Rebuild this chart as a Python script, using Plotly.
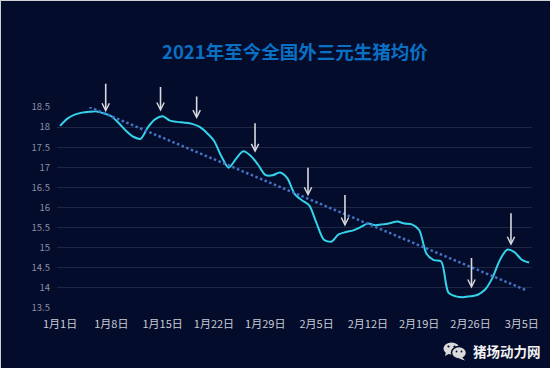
import plotly.graph_objects as go
import pandas as pd

# ---------------- data ----------------
start_date = "2021-01-01"
price_values = [
    18.03, 18.21, 18.31, 18.36, 18.38, 18.39, 18.34, 18.27, 18.10, 17.91,
    17.76, 17.71, 18.00, 18.20, 18.27, 18.16, 18.13, 18.11, 18.08, 18.01,
    17.86, 17.66, 17.28, 16.99, 17.21, 17.40, 17.29, 17.07, 16.81, 16.80,
    16.87, 16.73, 16.34, 16.18, 16.05, 15.61, 15.20, 15.15, 15.33, 15.39,
    15.43, 15.51, 15.60, 15.56, 15.58, 15.61, 15.65, 15.60, 15.58, 15.44,
    14.85, 14.69, 14.66, 13.88, 13.79, 13.77, 13.79, 13.83, 13.96, 14.25,
    14.69, 14.95, 14.89, 14.70, 14.63,
]
price_dates = pd.date_range(start_date, periods=len(price_values), freq="D")

trend_dates = ["2021-01-05", "2021-03-05 12:00"]
trend_values = [18.50, 13.95]

tick_dates = ["2021-01-01", "2021-01-08", "2021-01-15", "2021-01-22", "2021-01-29",
              "2021-02-05", "2021-02-12", "2021-02-19", "2021-02-26", "2021-03-05"]
tick_labels = ["1月1日", "1月8日", "1月15日", "1月22日", "1月29日",
               "2月5日", "2月12日", "2月19日", "2月26日", "3月5日"]

y_ticks = [13.5, 14, 14.5, 15, 15.5, 16, 16.5, 17, 17.5, 18, 18.5]
y_labels = ["13.5", "14", "14.5", "15", "15.5", "16", "16.5", "17", "17.5", "18", "18.5"]

# arrow marks: tip date, tip value
arrow_dates = ["2021-01-07 05:30", "2021-01-14 17:00", "2021-01-19 15:20", "2021-01-27 14:30",
               "2021-02-03 20:00", "2021-02-08 21:00", "2021-02-26 03:20", "2021-03-03 12:40"]
arrow_values = [18.37, 18.39, 18.20, 17.36, 16.28, 15.53, 13.985, 15.05]

title_text = "2021年至今全国外三元生猪均价"
watermark_text = "猪场动力网"

# ---------------- layout helpers ----------------
W, H = 555, 378
ML, MR, MT, MB = 57, 23, 107, 70
PW, PH = W - ML - MR, H - MT - MB

def pxx(px):
    return (px - ML) / PW

def pxy(py):
    return (H - MB - py) / PH

NAVY = "#040C2C"
FONT = "Noto Sans CJK SC"

fig = go.Figure()

fig.add_trace(go.Scatter(
    x=price_dates, y=price_values, mode="lines",
    line=dict(color="#33D3EA", width=2, shape="spline", smoothing=0.8),
    hoverinfo="skip", showlegend=False,
))
fig.add_trace(go.Scatter(
    x=trend_dates, y=trend_values, mode="lines",
    line=dict(color="#4472C4", width=2.5, dash="2.5px,2.5px"),
    hoverinfo="skip", showlegend=False,
))

arrow_lengths = [30, 26, 24, 31, 30, 33, 32, 34]
annotations = []
for d, v, ln in zip(arrow_dates, arrow_values, arrow_lengths):
    annotations.append(dict(
        x=d, y=v, xref="x", yref="y", text="", showarrow=True,
        ax=0, ay=-ln, arrowhead=5, arrowsize=0.9, arrowwidth=1.6,
        arrowcolor="#D9D9DE", standoff=0, startstandoff=0,
    ))

annotations.append(dict(
    x=0.5, y=pxy(51), xref="paper", yref="paper", xanchor="center", yanchor="middle",
    text="<b>" + title_text + "</b>", showarrow=False,
    font=dict(family=FONT, size=18.5, color="#0A70C4"),
))
annotations.append(dict(
    x=pxx(471), y=pxy(351), xref="paper", yref="paper", xanchor="left", yanchor="middle",
    text="<b>" + watermark_text + "</b>", showarrow=False,
    font=dict(family=FONT, size=13.5, color="#F2F2F2"),
))

shapes = [
    # light outer frame (top/left edge)
    dict(type="rect", xref="paper", yref="paper", x0=pxx(0), x1=pxx(550), y0=pxy(368), y1=pxy(0),
         fillcolor="#CFCFD4", line=dict(width=0), layer="below"),
    # navy chart background
    dict(type="rect", xref="paper", yref="paper", x0=pxx(1), x1=pxx(550), y0=pxy(368), y1=pxy(1),
         fillcolor=NAVY, line=dict(width=0), layer="below"),
    # wechat icon: big bubble
    dict(type="circle", xref="paper", yref="paper", x0=pxx(443.5), x1=pxx(459.5), y0=pxy(354.5), y1=pxy(342.5),
         fillcolor="#DADADA", line=dict(width=0), layer="above"),
    dict(type="path", xref="paper", yref="paper",
         path=f"M {pxx(446)},{pxy(352)} L {pxx(445)},{pxy(356)} L {pxx(449.5)},{pxy(353.5)} Z",
         fillcolor="#DADADA", line=dict(width=0), layer="above"),
    # small bubble
    dict(type="circle", xref="paper", yref="paper", x0=pxx(451.5), x1=pxx(466.5), y0=pxy(359), y1=pxy(346.5),
         fillcolor="#DADADA", line=dict(width=1.5, color=NAVY), layer="above"),
    dict(type="path", xref="paper", yref="paper",
         path=f"M {pxx(462)},{pxy(357)} L {pxx(465)},{pxy(360.5)} L {pxx(459)},{pxy(358.5)} Z",
         fillcolor="#DADADA", line=dict(width=0), layer="above"),
]
# eyes
for ex, ey, r in [(448.5, 346.5, 1.1), (454.5, 346.5, 1.1), (456.5, 351.5, 0.9), (461.5, 351.5, 0.9)]:
    shapes.append(dict(type="circle", xref="paper", yref="paper",
                       x0=pxx(ex - r), x1=pxx(ex + r), y0=pxy(ey + r), y1=pxy(ey - r),
                       fillcolor=NAVY, line=dict(width=0), layer="above"))

fig.update_layout(
    width=W, height=H,
    margin=dict(l=ML, r=MR, t=MT, b=MB, pad=0),
    paper_bgcolor="#FFFFFF",
    plot_bgcolor=NAVY,
    showlegend=False,
    annotations=annotations,
    shapes=shapes,
    xaxis=dict(
        type="date",
        range=["2020-12-31 14:00", "2021-03-06 09:30"],
        tickmode="array", tickvals=tick_dates, ticktext=tick_labels,
        showgrid=False, zeroline=False, showline=False,
        ticks="", ticklabelstandoff=8,
        tickfont=dict(family=FONT, size=11, color="#C8CBD4"),
        fixedrange=True,
    ),
    yaxis=dict(
        range=[13.5, 18.5],
        tickmode="array", tickvals=y_ticks, ticktext=y_labels,
        showgrid=True, gridcolor="#1E2744", gridwidth=1,
        zeroline=False, showline=False,
        ticks="", ticklabelstandoff=6,
        tickfont=dict(family=FONT, size=9.5, color="#8A90A2"),
        fixedrange=True,
    ),
)

fig.write_html(
    "out.html",
    config={"displayModeBar": False},
    post_script="document.body.style.margin='0';document.body.style.padding='0';",
)
